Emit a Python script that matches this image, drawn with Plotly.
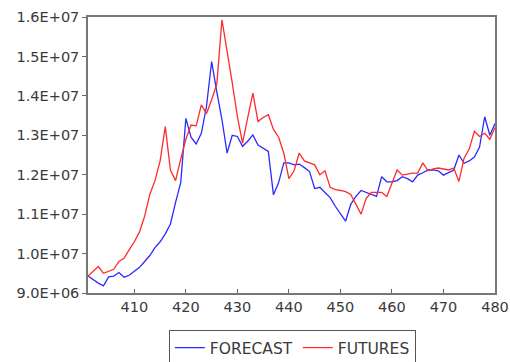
import plotly.graph_objects as go

periods = list(range(401, 481))

forecast = [
    9.43, 9.33, 9.25, 9.18, 9.41, 9.43, 9.52, 9.40, 9.45, 9.55,
    9.65, 9.80, 9.95, 10.15, 10.30, 10.50, 10.75, 11.30, 11.80, 13.43,
    12.95, 12.78, 13.05, 13.73, 14.87, 14.10, 13.40, 12.55, 13.00, 12.97,
    12.72, 12.85, 13.01, 12.75, 12.68, 12.59, 11.49, 11.80, 12.30, 12.30,
    12.25, 12.27, 12.18, 12.08, 11.65, 11.68, 11.55, 11.42, 11.20, 11.00,
    10.82, 11.25, 11.45, 11.60, 11.55, 11.50, 11.45, 11.95, 11.82, 11.82,
    11.85, 11.95, 11.90, 11.82, 11.99, 12.05, 12.12, 12.12, 12.10, 11.99,
    12.05, 12.12, 12.50, 12.29, 12.35, 12.45, 12.70, 13.47, 13.00, 13.30,
]

futures = [
    9.43, 9.55, 9.67, 9.50, 9.55, 9.60, 9.80, 9.88, 10.10, 10.30,
    10.55, 10.95, 11.50, 11.85, 12.35, 13.22, 12.12, 11.85, 12.40, 12.90,
    13.26, 13.24, 13.77, 13.55, 13.90, 14.30, 15.93, 15.17, 14.33, 13.47,
    12.80, 13.45, 14.07, 13.35, 13.45, 13.52, 13.15, 12.95, 12.55, 11.90,
    12.10, 12.55, 12.35, 12.30, 12.25, 12.00, 12.10, 11.68, 11.62, 11.60,
    11.57, 11.50, 11.25, 11.00, 11.40, 11.55, 11.55, 11.55, 11.45, 11.80,
    12.12, 11.99, 12.02, 12.04, 12.04, 12.30, 12.10, 12.15, 12.17, 12.15,
    12.12, 12.17, 11.83, 12.42, 12.65, 13.10, 12.97, 13.05, 12.90, 13.20,
]

y_tick_vals = [9.0e6, 1.0e7, 1.1e7, 1.2e7, 1.3e7, 1.4e7, 1.5e7, 1.6e7]
y_tick_text = ["9.0E+06", "1.0E+07", "1.1E+07", "1.2E+07", "1.3E+07", "1.4E+07", "1.5E+07", "1.6E+07"]
x_tick_vals = [410, 420, 430, 440, 450, 460, 470, 480]

fig = go.Figure()
fig.add_trace(go.Scatter(x=periods, y=[v * 1e6 for v in forecast], mode="lines",
                         name="FORECAST", line=dict(color="#2a2aff", width=1.3)))
fig.add_trace(go.Scatter(x=periods, y=[v * 1e6 for v in futures], mode="lines",
                         name="FUTURES", line=dict(color="#ff2a2a", width=1.3)))

fig.update_layout(
    width=510, height=362,
    margin=dict(l=88, r=15, t=17, b=69, autoexpand=False),
    paper_bgcolor="white", plot_bgcolor="white",
    font=dict(family="DejaVu Sans, sans-serif", size=14.5, color="#3a3a3a"),
    showlegend=True,
    legend=dict(orientation="h", xref="paper", x=0.502, xanchor="center",
                yref="container", y=0.088, yanchor="top",
                bordercolor="#555555", borderwidth=1, font=dict(size=15.5, color="#3a3a3a"),
                itemwidth=30),
)
fig.update_xaxes(range=[401, 480], tickvals=x_tick_vals, ticks="inside", ticklen=4,
                 tickcolor="#666666", showline=True, linecolor="#777777", linewidth=1.5,
                 mirror=True, showgrid=False, zeroline=False, automargin=False)
fig.update_yaxes(range=[9.0e6, 1.6e7], tickvals=y_tick_vals, ticktext=y_tick_text,
                 ticks="outside", ticklen=4, tickcolor="#666666", showline=True,
                 linecolor="#777777", linewidth=1.5, mirror=True, showgrid=False,
                 zeroline=False, automargin=False)

fig.write_html("out.html", config={"displayModeBar": False},
               post_script="document.body.style.margin='0';document.body.style.overflow='hidden';")
